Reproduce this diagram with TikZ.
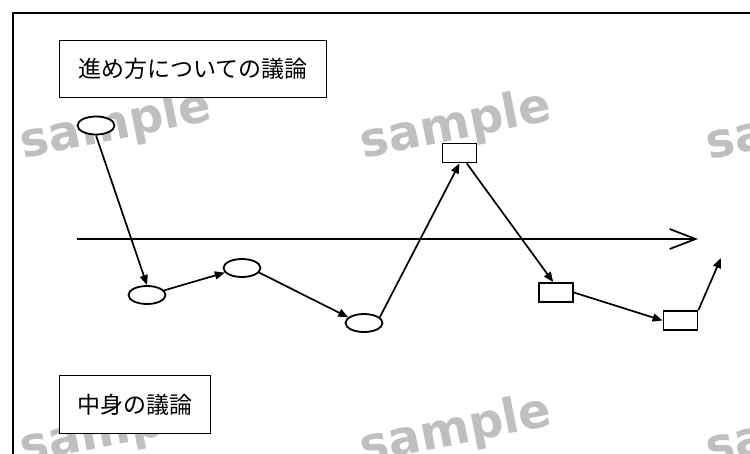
\documentclass[tikz,border=0pt]{standalone}
\usepackage{fontspec}
\newfontfamily\cjk{Noto Sans CJK JP}
\newfontfamily\wmfont{DejaVu Sans}
\usetikzlibrary{arrows.meta,shapes.geometric}
\tikzset{
  wm/.style={text=black!25, font=\wmfont\bfseries\fontsize{48}{48}\selectfont, rotate=11.3, inner sep=0pt},
  titlebox/.style={rectangle, draw, fill=white, line width=1.8pt, font=\cjk\fontsize{23}{23}\selectfont, inner sep=0pt},
  oval/.style={ellipse, draw, fill=white, line width=1.8pt, minimum width=37pt, minimum height=18pt, inner sep=0pt},
  sq/.style={rectangle, draw, fill=white, line width=1.8pt, minimum width=34pt, minimum height=19pt, inner sep=0pt},
  conn/.style={line width=1.7pt, -{Triangle[length=10pt,width=8pt]}},
  axisline/.style={line width=1.7pt, -{Straight Barb[length=26pt,width=20pt]}},
}
\begin{document}
\begin{tikzpicture}[x=1pt,y=-1pt]
\useasboundingbox (0,0) rectangle (750,453);
\begin{scope}
\clip (0,0) rectangle (750,453);
% watermarks
\node[wm] (w1) at (116,126) {sample};
\node[wm] (w2) at (456,126) {sample};
\node[wm] (w3) at (802,127) {sample};
\node[wm] (w4) at (116,431) {sample};
\node[wm] (w5) at (456,431) {sample};
\node[wm] (w6) at (802,432) {sample};
% frame
\draw[line width=2pt] (12.5,12.5) rectangle (800,500);
\end{scope}
% title boxes
\node[titlebox, minimum width=267pt, minimum height=57pt] (t1) at (193,69) {進め方についての議論};
\node[titlebox, minimum width=151pt, minimum height=58pt] (t2) at (135,404.5) {中身の議論};
% axis
\coordinate (ax0) at (77,239);
\coordinate (ax1) at (698,239);
\draw[axisline] (ax0) -- (ax1);
% shapes
\node[oval] (e1) at (96,125.5) {};
\node[oval] (e2) at (147,295) {};
\node[oval] (e3) at (242,268) {};
\node[oval] (e4) at (364,323) {};
\node[sq] (r1) at (459.5,153) {};
\node[sq] (r2) at (556,292.5) {};
\node[sq] (r3) at (680.5,320.5) {};
\coordinate (fin) at (721,258);
% connectors
\draw[conn] (e1.south) -- (e2.north);
\draw[conn] (e2.15) -- (e3.195);
\draw[conn] (e3.-15) -- (e4.160);
\draw[conn] (e4.20) -- (r1.south);
\draw[conn] (r1.-55) -- (r2.105);
\draw[conn] (r2.east) -- (r3.west);
\draw[conn] (r3.north east) -- (fin);
\end{tikzpicture}
\end{document}
